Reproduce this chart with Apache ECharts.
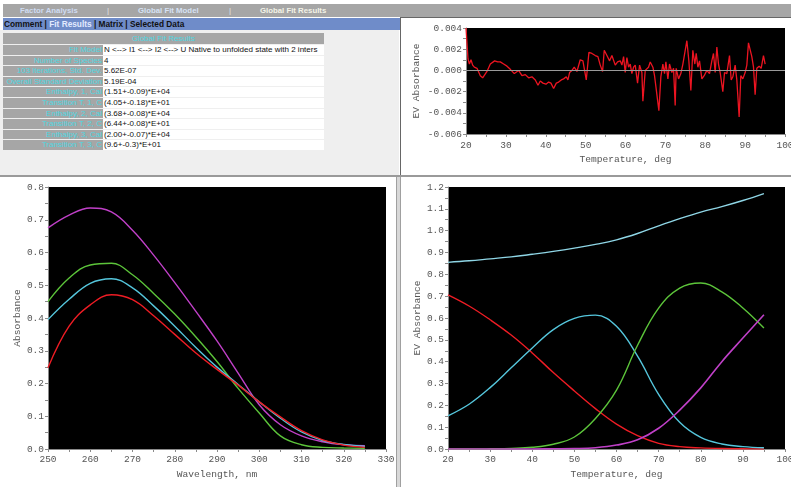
<!DOCTYPE html>
<html><head><meta charset="utf-8">
<script src="https://cdn.jsdelivr.net/npm/echarts@6/dist/echarts.min.js"></script>
<style>
html,body{margin:0;padding:0;width:791px;height:487px;overflow:hidden;background:#fff;font-family:"Liberation Sans",Arial,sans-serif;}
.abs{position:absolute;white-space:nowrap;}
#chart{position:absolute;left:0;top:0;width:791px;height:487px;}
.cell{position:absolute;font-size:8px;line-height:10px;white-space:nowrap;overflow:hidden;}
</style></head><body>
<div class="abs" style="left:3px;top:4px;width:788px;height:13px;background:#a6a6a6"></div>
<div class="abs" style="left:20px;top:4px;line-height:13px;font-size:7.8px;font-weight:bold;color:#cfdcf2">Factor Analysis</div>
<div class="abs" style="left:107px;top:4px;line-height:13px;font-size:8px;color:#e4e4e4">|</div>
<div class="abs" style="left:138px;top:4px;line-height:13px;font-size:7.8px;font-weight:bold;color:#d6e2f4">Global Fit Model</div>
<div class="abs" style="left:229px;top:4px;line-height:13px;font-size:8px;color:#e4e4e4">|</div>
<div class="abs" style="left:260px;top:4px;line-height:13px;font-size:7.8px;font-weight:bold;color:#f4f4e8">Global Fit Results</div>
<div class="abs" style="left:0px;top:30px;width:399px;height:145px;background:#efefef"></div>
<div class="abs" style="left:3px;top:18px;width:397px;height:12px;background:#6f8cc9"></div>
<div class="abs" style="left:4px;top:18px;line-height:12px;font-size:8.3px;font-weight:bold;color:#111">Comment | <span style="color:#e2eaff">Fit Results</span> | Matrix | Selected Data</div>
<div id="table"></div>
<div class="abs" style="left:401px;top:17px;width:390px;height:1px;background:#666"></div>
<div class="abs" style="left:400px;top:17px;width:1px;height:159px;background:#666"></div>
<div class="abs" style="left:0px;top:175px;width:791px;height:2px;background:#9a9a9a"></div>
<div class="abs" style="left:396px;top:177px;width:1px;height:310px;background:#a0a0a0"></div>
<div class="abs" style="left:397px;top:177px;width:3px;height:310px;background:#d8d8d8"></div>
<div class="abs" style="left:400px;top:177px;width:1px;height:310px;background:#a0a0a0"></div>
<div id="chart"></div>
<script>
// ---- table text ----
const tableTitle = "Global Fit Results";
const tableLabels = ["Fit Model","Number of Species","103 Iterations, Std. Dev.","Overall Standard Deviation","Enthalpy, 1,  Cal","Transition T, 1, C","Enthalpy, 2,  Cal","Transition  T, 2, C","Enthalpy, 3,  Cal","Transition T, 3, C"];
const tableValues = ["N <--> I1 <--> I2 <--> U   Native to unfolded state with 2 inters","4","5.62E-07","5.19E-04","(1.51+-0.09)*E+04","(4.05+-0.18)*E+01","(3.68+-0.08)*E+04","(6.44+-0.08)*E+01","(2.00+-0.07)*E+04","(9.6+-0.3)*E+01"];

// ---- residual chart (top right) ----
const residT = [20.0,20.5,20.84,21.25,21.67,22.09,22.76,23.59,24.18,24.68,
25.26,26.1,27.18,27.94,28.6,29.44,30.28,31.11,32.11,33.2,
34.04,34.87,35.71,36.54,37.38,38.05,38.63,39.3,40.05,40.72,
41.3,41.97,42.64,43.22,43.89,44.48,45.15,45.56,45.98,46.57,
47.15,47.82,48.65,49.32,50.16,50.83,51.58,52.41,53.08,53.67,
54.25,54.67,55.34,56.01,56.59,57.43,58.01,58.68,59.1,59.52,
59.93,60.35,60.77,61.19,61.6,62.02,62.44,63.02,63.53,64.11,
64.36,64.95,65.78,66.2,66.87,67.28,67.7,68.37,68.87,69.37,
69.79,70.13,70.63,71.04,71.63,72.05,72.46,72.71,73.3,73.88,
74.39,74.8,75.39,75.89,76.39,76.89,77.39,77.73,78.15,78.56,
79.15,79.73,80.4,81.07,81.65,82.07,82.49,82.91,83.32,83.74,
84.41,84.83,85.41,86.08,86.5,86.92,87.5,87.92,88.5,88.92,
89.42,90.01,90.43,90.84,91.26,91.68,92.1,92.51,92.93,93.52,
94.02,94.6,95.02];
const residV = [0.0040,0.0011,0.0006,0.0010,0.0005,0.0003,0.0002,-0.0005,-0.0007,-0.0006,
-0.0001,0.0006,0.0009,0.0008,0.0008,0.0006,0.0004,0.0001,-0.0003,0.0000,
-0.0005,-0.0004,-0.0007,-0.0006,-0.0009,-0.0014,-0.0010,-0.0012,-0.0013,-0.0011,
-0.0012,-0.0017,-0.0012,-0.0011,-0.0009,-0.0008,-0.0006,-0.0009,-0.0002,0.0000,
0.0003,-0.0001,0.0010,0.0009,-0.0009,0.0017,0.0016,0.0014,0.0013,0.0005,
-0.0001,0.0019,0.0014,0.0009,0.0014,0.0005,0.0008,0.0009,0.0005,0.0013,
-0.0002,0.0012,0.0003,0.0006,-0.0003,0.0003,0.0005,-0.0012,0.0005,-0.0002,
-0.0029,0.0000,0.0003,0.0008,0.0003,-0.0005,-0.0004,-0.0038,-0.0006,0.0006,
-0.0003,0.0008,-0.0008,0.0006,-0.0002,0.0002,-0.0033,0.0002,-0.0008,-0.0003,
0.0006,0.0005,0.0028,0.0009,-0.0019,0.0019,0.0006,0.0016,0.0003,0.0009,
-0.0008,-0.0005,0.0000,-0.0003,0.0009,0.0016,-0.0002,0.0022,0.0006,-0.0002,
-0.0020,-0.0002,-0.0003,0.0014,-0.0009,-0.0006,0.0005,-0.0009,-0.0044,-0.0005,
-0.0008,-0.0002,0.0005,0.0026,0.0025,0.0013,0.0003,-0.0023,0.0002,0.0004,
0.0002,0.0014,0.0006];

// ---- spectra (bottom left) ----
const wavelengths = [250,255,260,265,270,275,280,285,290,295,300,305,310,315,320,325];
const specRed     = [0.248,0.375,0.440,0.471,0.456,0.407,0.350,0.293,0.243,0.195,0.144,0.098,0.056,0.028,0.012,0.005];
const specCyan    = [0.395,0.457,0.506,0.520,0.492,0.437,0.375,0.310,0.250,0.197,0.144,0.094,0.052,0.026,0.014,0.008];
const specGreen   = [0.450,0.522,0.562,0.567,0.532,0.475,0.412,0.342,0.267,0.185,0.110,0.040,0.013,0.005,0.003,0.002];
const specMagenta = [0.675,0.714,0.736,0.724,0.668,0.592,0.508,0.420,0.330,0.232,0.135,0.074,0.040,0.022,0.013,0.010];

// ---- species vs temperature (bottom right) ----
const temps      = [20,25,30,35,40,45,50,55,60,65,70,75,80,85,90,95];
const evTotal    = [0.855,0.862,0.871,0.880,0.892,0.905,0.920,0.937,0.958,0.987,1.022,1.055,1.085,1.110,1.138,1.170];
const evNative   = [0.706,0.655,0.592,0.522,0.440,0.350,0.266,0.185,0.114,0.061,0.026,0.011,0.005,0.002,0.001,0.000];
const evInter1   = [0.152,0.205,0.281,0.372,0.463,0.547,0.598,0.613,0.562,0.425,0.250,0.122,0.053,0.023,0.011,0.006];
const evInter2   = [0.000,0.000,0.001,0.003,0.008,0.022,0.055,0.140,0.270,0.475,0.645,0.737,0.760,0.720,0.646,0.554];
const evUnfolded = [0.000,0.000,0.000,0.000,0.000,0.001,0.002,0.006,0.018,0.042,0.095,0.178,0.280,0.400,0.508,0.615];

// build table
(function(){
  const t = document.getElementById('table');
  let html = '<div class="cell" style="left:3px;top:33px;width:321px;height:11px;line-height:11px;background:#a6a6a6;color:#4fd6e0;text-align:center">'+tableTitle+'</div>';
  for (let i=0;i<tableLabels.length;i++){
    const top = 45 + i*10.6;
    html += '<div class="cell" style="left:3px;top:'+top+'px;width:99px;height:9.6px;background:#a6a6a6;color:#4fd6e0;text-align:right;padding-right:1px">'+tableLabels[i].replace(/</g,'&lt;')+'</div>';
    html += '<div class="cell" style="left:103px;top:'+top+'px;width:220px;height:9.6px;background:#fff;color:#111;padding-left:1px">'+tableValues[i].replace(/</g,'&lt;').replace(/>/g,'&gt;')+'</div>';
  }
  t.innerHTML = html;
})();

const mono = 'Liberation Mono';
const gray = '#8a8a8a';
function axis(gi, min, max, interval, digits, name, nameGap, labelMargin){
  return {
    gridIndex: gi, type:'value', min:min, max:max, interval:interval,
    axisLine:{show:true, onZero:false, lineStyle:{color:gray,width:1}},
    axisTick:{show:true, length:3, lineStyle:{color:gray}},
    minorTick:{show:true, splitNumber:2, length:3, lineStyle:{color:gray}},
    splitLine:{show:false},
    axisLabel:{color:'#555', fontFamily:mono, fontSize:9.5, margin:labelMargin,
      showMinLabel:true, showMaxLabel:true,
      formatter:function(v){ return Number(v).toFixed(digits); }},
    name:name, nameLocation:'middle', nameGap:nameGap,
    nameTextStyle:{color:'#555', fontFamily:mono, fontSize:9.6}
  };
}
function line(xi, xs, ys, color, width){
  return {type:'line', xAxisIndex:xi, yAxisIndex:xi, data: xs.map((x,i)=>[x,ys[i]]),
    showSymbol:false, smooth:0.4, lineStyle:{color:color,width:width}, itemStyle:{color:color}, silent:true};
}
const chart = echarts.init(document.getElementById('chart'));
const gridBase = {show:true, backgroundColor:'#000', borderWidth:0, containLabel:false, outerBoundsMode:'none'};
chart.setOption({
  animation:false,
  backgroundColor:'transparent',
  grid:[
    Object.assign({left:466, right:6, top:28, bottom:353}, gridBase),
    Object.assign({left:48, width:338, top:187, bottom:38}, gridBase),
    Object.assign({left:448, right:6, top:187, bottom:38}, gridBase)
  ],
  xAxis:[
    axis(0, 20, 100, 10, 0, 'Temperature, deg', 20, 6),
    axis(1, 250, 330, 10, 0, 'Wavelength, nm', 20, 5),
    axis(2, 20, 100, 10, 0, 'Temperature, deg', 20, 5)
  ],
  yAxis:[
    axis(0, -0.006, 0.004, 0.002, 3, 'EV Absorbance', 45, 4),
    axis(1, 0, 0.8, 0.1, 1, 'Absorbance', 26, 4),
    axis(2, 0, 1.2, 0.1, 1, 'EV Absorbance', 26, 4)
  ],
  series:[
    Object.assign(line(0, residT, residV, '#ec1421', 1.3), {smooth:false,
      markLine:{silent:true, symbol:'none', label:{show:false}, lineStyle:{color:'#9a9a9a', type:'solid', width:1},
        data:[{yAxis:0}]}, z:3}),
    line(1, wavelengths, specMagenta, '#c040c8', 1.4),
    line(1, wavelengths, specGreen, '#5cc43a', 1.4),
    line(1, wavelengths, specCyan, '#55c6dc', 1.4),
    line(1, wavelengths, specRed, '#ee1c24', 1.4),
    line(2, temps, evTotal, '#8fd6e6', 1.4),
    line(2, temps, evNative, '#ee1c24', 1.4),
    line(2, temps, evInter1, '#55c6dc', 1.4),
    line(2, temps, evInter2, '#5cc43a', 1.4),
    line(2, temps, evUnfolded, '#c040c8', 1.6)
  ]
});
</script>
</body></html>
